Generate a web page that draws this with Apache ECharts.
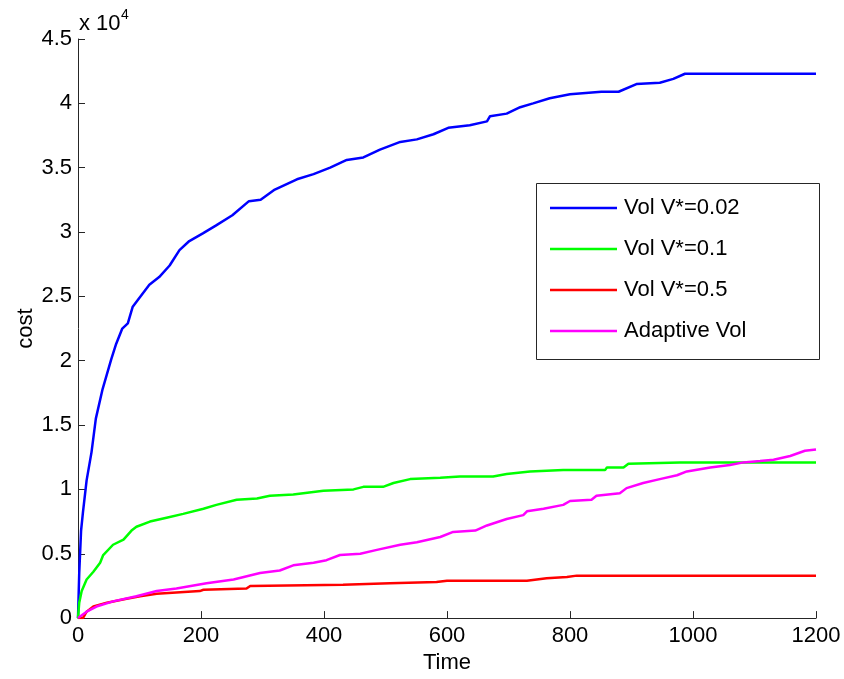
<!DOCTYPE html>
<html>
<head>
<meta charset="utf-8">
<script src="https://cdn.jsdelivr.net/npm/echarts@6/dist/echarts.min.js"></script>
<style>
html,body{margin:0;padding:0;background:#fff;}
#chart{width:844px;height:679px;}
</style>
</head>
<body>
<div id="chart"></div>
<script>
// Values in units of 10^4
const seriesNames = ['Vol V*=0.02', 'Vol V*=0.1', 'Vol V*=0.5', 'Adaptive Vol'];
const xTicks = [0, 200, 400, 600, 800, 1000, 1200];
const yTicks = [0, 0.5, 1, 1.5, 2, 2.5, 3, 3.5, 4, 4.5];

const blueT = [0,2,5,8,14,22,29,40,54,62,72,81,89,100,116,132,149,165,181,203,224,251,278,297,320,356,383,410,437,464,491,524,551,578,602,637,665,670,697,719,740,767,800,851,879,908,946,968,987,1200];
const blueV = [0,0.35,0.68,0.82,1.07,1.29,1.55,1.78,2.01,2.13,2.25,2.29,2.42,2.49,2.59,2.65,2.74,2.86,2.93,2.99,3.05,3.13,3.24,3.25,3.33,3.41,3.45,3.50,3.56,3.58,3.64,3.70,3.72,3.76,3.81,3.83,3.86,3.90,3.92,3.97,4.00,4.04,4.07,4.09,4.09,4.15,4.16,4.19,4.23,4.23];

const greenT = [0,2,6,14,25,36,41,57,74,87,95,117,144,171,204,225,258,291,312,350,399,448,464,496,513,540,589,621,675,697,735,789,857,860,887,895,979,1200];
const greenV = [0,0.12,0.21,0.30,0.36,0.43,0.49,0.57,0.61,0.68,0.71,0.75,0.78,0.81,0.85,0.88,0.92,0.93,0.95,0.96,0.99,1.00,1.02,1.02,1.05,1.08,1.09,1.10,1.10,1.12,1.14,1.15,1.15,1.17,1.17,1.20,1.21,1.21];

const redT = [0,8,14,25,47,79,101,128,198,204,274,280,431,507,583,600,730,762,795,811,1200];
const redV = [0,0,0.05,0.09,0.12,0.15,0.17,0.19,0.21,0.22,0.23,0.25,0.26,0.27,0.28,0.29,0.29,0.31,0.32,0.33,0.33];

const magT = [0,14,30,57,95,128,160,209,253,296,328,350,383,404,426,459,486,524,551,589,610,646,665,697,724,730,757,789,800,835,843,881,892,919,946,974,990,1028,1060,1082,1109,1131,1158,1182,1200];
const magV = [0,0.05,0.09,0.13,0.17,0.21,0.23,0.27,0.30,0.35,0.37,0.41,0.43,0.45,0.49,0.50,0.53,0.57,0.59,0.63,0.67,0.68,0.72,0.77,0.80,0.83,0.85,0.88,0.91,0.92,0.95,0.97,1.01,1.05,1.08,1.11,1.14,1.17,1.19,1.21,1.22,1.23,1.26,1.30,1.31];

const colors = ['#0000ff', '#00ff00', '#ff0000', '#ff00ff'];
const zip = (t, v) => t.map((x, i) => [x, v[i]]);
const allData = [zip(blueT, blueV), zip(greenT, greenV), zip(redT, redV), zip(magT, magV)];

const FONT = 'Liberation Sans, Arial, Helvetica, sans-serif';
const chart = echarts.init(document.getElementById('chart'), null, {renderer: 'canvas'});

const option = {
  animation: false,
  backgroundColor: '#ffffff',
  grid: {left: 78, right: 28, top: 39, bottom: 59, containLabel: false},
  xAxis: {
    type: 'value', min: xTicks[0], max: xTicks[xTicks.length - 1], interval: 200,
    name: 'Time', nameLocation: 'middle', nameGap: 30,
    nameTextStyle: {fontSize: 22, color: '#000', fontFamily: FONT},
    axisLine: {show: true, lineStyle: {color: '#262626', width: 1}},
    axisTick: {show: true, inside: true, length: 7, lineStyle: {color: '#262626'}},
    axisLabel: {fontSize: 22, color: '#000', fontFamily: FONT, margin: 7,
                formatter: v => String(v)},
    splitLine: {show: false}
  },
  yAxis: {
    type: 'value', min: yTicks[0], max: yTicks[yTicks.length - 1], interval: 0.5,
    name: 'cost', nameLocation: 'middle', nameGap: 41, nameRotate: 90,
    nameMoveOverlap: false,
    nameTextStyle: {fontSize: 22, color: '#000', fontFamily: FONT},
    axisLine: {show: true, lineStyle: {color: '#262626', width: 1}},
    axisTick: {show: true, inside: true, length: 7, lineStyle: {color: '#262626'}},
    axisLabel: {fontSize: 22, color: '#000', fontFamily: FONT, margin: 6,
                formatter: v => String(v)},
    splitLine: {show: false}
  },
  legend: {
    show: true,
    z: 20, zlevel: 0,
    orient: 'vertical',
    left: 550, top: 197,
    padding: 0,
    itemGap: 19,
    itemWidth: 67, itemHeight: 2.5,
    icon: 'rect',
    textStyle: {fontSize: 22, color: '#000', fontFamily: FONT, lineHeight: 22, padding: [0, 0, 0, 2]},
    data: seriesNames
  },
  graphic: [
    {type: 'rect', left: 536, top: 183, z: 1, silent: true,
     shape: {width: 283, height: 176},
     style: {fill: '#ffffff', stroke: '#262626', lineWidth: 1}},
    {type: 'text', left: 79, top: 13, z: 10,
     style: {text: 'x 10', fontSize: 22, fill: '#000', fontFamily: FONT}},
    {type: 'text', left: 121, top: 8, z: 10,
     style: {text: '4', fontSize: 14, fill: '#000', fontFamily: FONT}}
  ],
  series: allData.map((d, i) => ({
    name: seriesNames[i],
    type: 'line',
    data: d,
    showSymbol: false,
    symbol: 'none',
    lineStyle: {color: colors[i], width: 2.5},
    itemStyle: {color: colors[i]},
    z: 2 + i
  }))
};
chart.setOption(option);
</script>
</body>
</html>
